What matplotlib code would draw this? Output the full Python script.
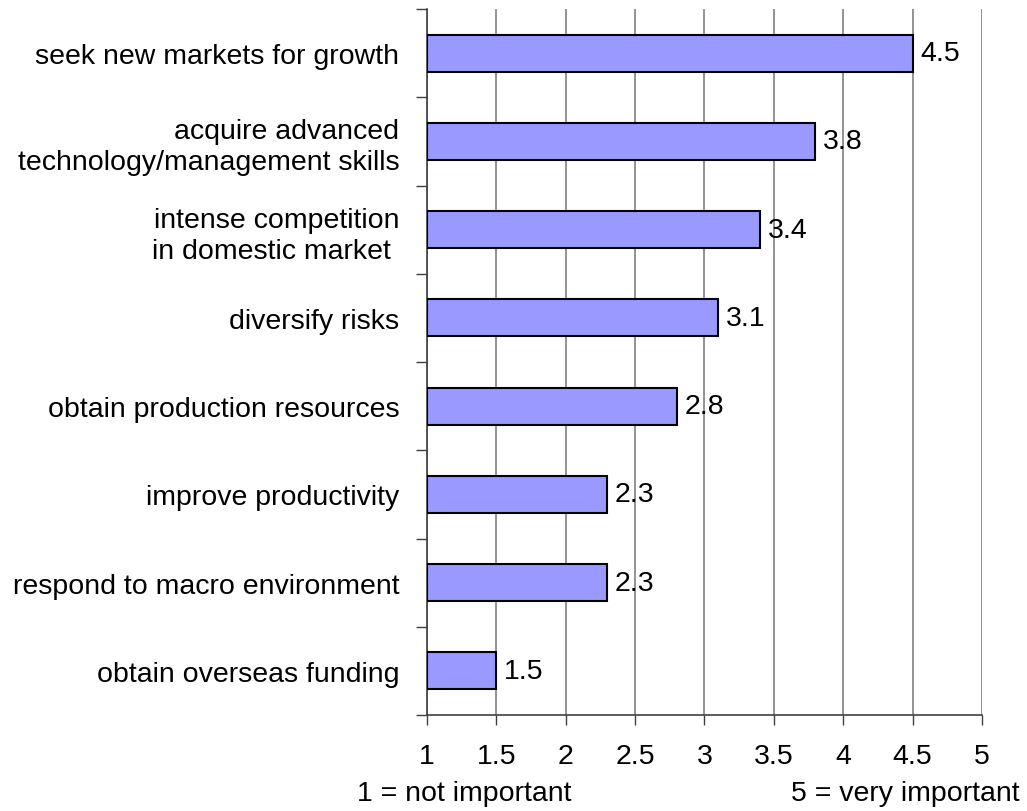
import matplotlib
matplotlib.use("Agg")
import matplotlib.pyplot as plt

plt.rcParams['font.family'] = ['Liberation Sans', 'DejaVu Sans']

categories = [
    "seek new markets for growth",
    "acquire advanced\ntechnology/management skills",
    "intense competition\nin domestic market ",
    "diversify risks",
    "obtain production resources",
    "improve productivity",
    "respond to macro environment",
    "obtain overseas funding",
]
scores = [4.5, 3.8, 3.4, 3.1, 2.8, 2.3, 2.3, 1.5]
x_ticks = [1, 1.5, 2, 2.5, 3, 3.5, 4, 4.5, 5]
x_tick_labels = ["1", "1.5", "2", "2.5", "3", "3.5", "4", "4.5", "5"]

FS = 20.5

fig = plt.figure(figsize=(10.27, 8.12), dpi=100)
ax = fig.add_axes([427 / 1027, 1 - 716 / 812, (982 - 427) / 1027, (716 - 10) / 812])

n = len(categories)
ypos = list(range(n))
base = 1.0
ax.barh(ypos, [s - base for s in scores], left=base, height=0.42,
        color="#9999FF", edgecolor="#000000", linewidth=1.5, zorder=3)

for y, s in zip(ypos, scores):
    ax.text(s + 0.055, y, f"{s:.1f}", va="center", ha="left", fontsize=FS, zorder=4)

ax.set_xlim(1, 5)
ax.set_ylim(n - 0.5, -0.5)
ax.set_xticks(x_ticks)
ax.set_xticklabels(x_tick_labels, fontsize=FS)
ax.xaxis.grid(True, color="#808080", linewidth=1.2, zorder=0)
ax.set_axisbelow(True)

# category labels centred on bars, tick marks at category boundaries
ax.set_yticks(ypos)
ax.set_yticklabels(categories, fontsize=FS, ha="right", multialignment="right",
                   linespacing=1.25)
ax.tick_params(axis="y", length=0, pad=20)
ax.set_yticks([i - 0.5 for i in range(n + 1)], minor=True)
ax.tick_params(axis="y", which="minor", length=8, width=1.0, color="#404040", direction="out")
ax.tick_params(axis="x", length=7, width=1.0, color="#404040", pad=13)

for side in ("top", "right"):
    ax.spines[side].set_visible(False)
ax.spines["left"].set_color("#404040")
ax.spines["bottom"].set_color("#404040")
ax.spines["left"].set_linewidth(1.2)
ax.spines["bottom"].set_linewidth(1.2)
ax.spines["bottom"].set_bounds(1, 5)

fig.text(464 / 1027, 1 - 794 / 812, "1 = not important", ha="center", va="center", fontsize=FS)
fig.text(1020 / 1027, 1 - 794 / 812, "5 = very important", ha="right", va="center", fontsize=FS)

fig.savefig("out.png", dpi=100)
